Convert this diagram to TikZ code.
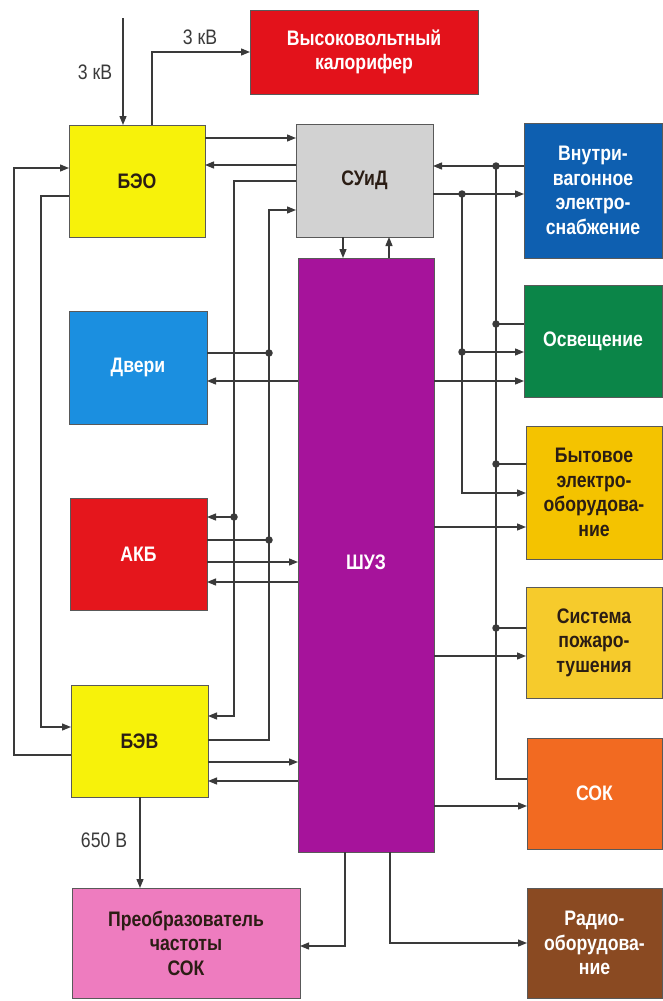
\documentclass[tikz,border=0pt]{standalone}
\usepackage{fontspec}
\setmainfont{Liberation Sans}
\newfontfamily\condfont{Liberation Sans}[FakeStretch=0.84]
\usetikzlibrary{arrows.meta}
\definecolor{cKal}{HTML}{E3121B}
\definecolor{cYel}{HTML}{F7F20A}
\definecolor{cGray}{HTML}{D2D2D2}
\definecolor{cShuz}{HTML}{A6139B}
\definecolor{cVnut}{HTML}{0E5FB0}
\definecolor{cOsv}{HTML}{0B8548}
\definecolor{cByt}{HTML}{F4C300}
\definecolor{cSist}{HTML}{F6CB2C}
\definecolor{cSok}{HTML}{F26A21}
\definecolor{cRadio}{HTML}{8A4A22}
\definecolor{cDveri}{HTML}{1B8FE0}
\definecolor{cAkb}{HTML}{E5161C}
\definecolor{cPreo}{HTML}{EE7CBF}
\definecolor{lnc}{HTML}{3A3A3A}
\definecolor{dtext}{HTML}{2B1D14}
\begin{document}
\begin{tikzpicture}[x=1pt,y=-1pt,
  box/.style={rectangle, anchor=north west, outer sep=0pt, inner sep=2pt, align=center,
    font=\condfont\bfseries\fontsize{21}{24.5}\selectfont, line width=0.8pt, draw=black!65},
  ln/.style={draw=lnc, line width=1.3pt},
  arr/.style={ln, -{Triangle[length=9pt,width=7pt]}},
  dot/.style={circle, fill=lnc, inner sep=0pt, minimum size=7.5pt},
  lbl/.style={font=\condfont\fontsize{21}{24}\selectfont, text=lnc}]
\useasboundingbox[fill=white] (0,0) rectangle (663,1001);

% boxes
\node[box, fill=cKal, text=white, minimum width=228pt, minimum height=84pt] (kal) at (250,10) {Высоковольтный\\калорифер};
\node[box, fill=cYel, text=dtext, minimum width=136pt, minimum height=112pt] (beo) at (69,125) {БЭО};
\node[box, fill=cGray, text=dtext, minimum width=137pt, minimum height=113pt] (suid) at (296,124) {СУиД};
\node[box, fill=cShuz, text=white, minimum width=136pt, minimum height=594pt] (shuz) at (298,258) {};
\node[text=white, font=\condfont\bfseries\fontsize{21}{24}\selectfont] (shuzt) at (366,562) {ШУЗ};
\node[box, fill=cVnut, text=white, minimum width=138pt, minimum height=135pt] (vnut) at (524,123) {Внутри-\\вагонное\\электро-\\снабжение};
\node[box, fill=cOsv, text=white, minimum width=138pt, minimum height=112pt] (osv) at (524,285) {Освещение};
\node[box, fill=cByt, text=dtext, minimum width=136pt, minimum height=133pt] (byt) at (526,426) {Бытовое\\электро-\\оборудова-\\ние};
\node[box, fill=cSist, text=dtext, minimum width=136pt, minimum height=111pt] (sist) at (526,587) {Система\\пожаро-\\тушения};
\node[box, fill=cSok, text=white, minimum width=135pt, minimum height=111pt] (sok) at (527,738) {СОК};
\node[box, fill=cRadio, text=white, minimum width=135pt, minimum height=110pt] (radio) at (527,888) {Радио-\\оборудова-\\ние};
\node[box, fill=cDveri, text=white, minimum width=138pt, minimum height=113pt] (dveri) at (69,311) {Двери};
\node[box, fill=cAkb, text=white, minimum width=137pt, minimum height=112pt] (akb) at (70,498) {АКБ};
\node[box, fill=cYel, text=dtext, minimum width=137pt, minimum height=112pt] (bev) at (71,685) {БЭВ};
\node[box, fill=cPreo, text=dtext, minimum width=228pt, minimum height=110pt] (preo) at (72,888) {Преобразователь\\частоты\\СОК};

% top inputs
\coordinate (in) at (123,18);
\draw[arr] (in) -- (in |- beo.north);
\node[lbl] (l1) at (95,72) {3 кВ};
\draw[arr] (beo.north -| 152,0) -- (152,52) -- (kal.west |- 0,52);
\node[lbl] (l2) at (200,37) {3 кВ};

% BEO <-> SUiD
\draw[arr] (beo.east |- 0,138) -- (suid.west |- 0,138);
\draw[arr] (suid.west |- 0,165) -- (beo.east |- 0,165);

% SUiD -> AKB, BEV
\draw[arr] (suid.west |- 0,181) -- (234,181) -- (234,716) -- (bev.east |- 0,716);
\draw[arr] (234,517) -- (akb.east |- 0,517);
\node[dot] (d1) at (234,517) {};

% BEV, AKB, Doors -> SUiD
\draw[arr] (bev.east |- 0,740) -- (269,740) -- (269,210) -- (suid.west |- 0,210);
\draw[ln] (dveri.east |- 0,353) -- (269,353);
\draw[ln] (akb.east |- 0,540) -- (269,540);
\node[dot] (d2) at (269,353) {};
\node[dot] (d3) at (269,540) {};

% SHUZ <-> left blocks
\draw[arr] (shuz.west |- 0,381) -- (dveri.east |- 0,381);
\draw[arr] (akb.east |- 0,562) -- (shuz.west |- 0,562);
\draw[arr] (shuz.west |- 0,582) -- (akb.east |- 0,582);
\draw[arr] (bev.east |- 0,762) -- (shuz.west |- 0,762);
\draw[arr] (shuz.west |- 0,781) -- (bev.east |- 0,781);

% left loops
\draw[arr] (bev.west |- 0,755) -- (14,755) -- (14,168) -- (beo.west |- 0,168);
\draw[arr] (beo.west |- 0,196) -- (41,196) -- (41,727) -- (bev.west |- 0,727);

% BEV -> converter
\draw[arr] (bev.south -| 140,0) -- (preo.north -| 140,0);
\node[lbl] (l3) at (104,840) {650 В};

% SUiD <-> SHUZ
\draw[arr] (suid.south -| 343,0) -- (shuz.north -| 343,0);
\draw[arr] (shuz.north -| 389,0) -- (suid.south -| 389,0);

% SHUZ -> converter, radio
\draw[arr] (shuz.south -| 345,0) -- (345,946) -- (preo.east |- 0,946);
\draw[arr] (shuz.south -| 390,0) -- (390,943) -- (radio.west |- 0,943);

% right side
\draw[arr] (vnut.west |- 0,166) -- (suid.east |- 0,166);
\draw[arr] (suid.east |- 0,194) -- (vnut.west |- 0,194);
\draw[arr] (462,194) -- (462,493) -- (byt.west |- 0,493);
\draw[arr] (462,352) -- (osv.west |- 0,352);
\draw[ln] (496,166) -- (496,779) -- (sok.west |- 0,779);
\draw[ln] (osv.west |- 0,324) -- (496,324);
\draw[ln] (byt.west |- 0,464) -- (496,464);
\draw[ln] (sist.west |- 0,628) -- (496,628);
\node[dot] (d4) at (496,166) {};
\node[dot] (d5) at (462,194) {};
\node[dot] (d6) at (496,324) {};
\node[dot] (d7) at (462,352) {};
\node[dot] (d8) at (496,464) {};
\node[dot] (d9) at (496,628) {};

\draw[arr] (shuz.east |- 0,381) -- (osv.west |- 0,381);
\draw[arr] (shuz.east |- 0,527) -- (byt.west |- 0,527);
\draw[arr] (shuz.east |- 0,656) -- (sist.west |- 0,656);
\draw[arr] (shuz.east |- 0,806) -- (sok.west |- 0,806);
\end{tikzpicture}
\end{document}
